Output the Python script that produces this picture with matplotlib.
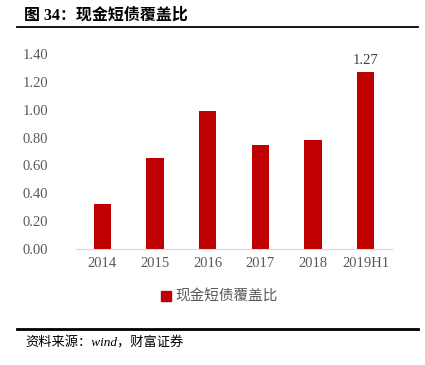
import matplotlib
matplotlib.use("Agg")
import matplotlib.pyplot as plt
from matplotlib.lines import Line2D

plt.rcParams['font.family'] = ['Liberation Serif', 'Noto Sans CJK SC']

years = ['2014', '2015', '2016', '2017', '2018', '2019H1']
ratio = [0.32, 0.65, 0.99, 0.75, 0.78, 1.27]
label_last = '1.27'
series_name = '现金短债覆盖比'
red = '#C00000'
grey = '#595959'

fig = plt.figure(figsize=(4.25, 3.65), dpi=100)
ax = fig.add_axes([0.179, 0.318, 0.743, 0.534])

x = range(len(years))
ax.bar(x, ratio, width=0.33, color=red, zorder=2)
ax.text(x[-1], ratio[-1] + 0.04, label_last, ha='center', va='bottom',
        fontsize=10.5, color='#404040')

ax.set_xlim(-0.5, len(years) - 0.5)
ax.set_ylim(0, 1.4)
ax.set_yticks([0, 0.2, 0.4, 0.6, 0.8, 1.0, 1.2, 1.4])
ax.set_yticklabels(['%.2f' % v for v in ax.get_yticks()])
ax.set_xticks(list(x))
ax.set_xticklabels(years)
ax.tick_params(axis='both', length=0, labelsize=10.5, colors=grey)
ax.tick_params(axis='y', pad=20)
ax.tick_params(axis='x', pad=6)
for s in ['top', 'right', 'left']:
    ax.spines[s].set_visible(False)
ax.spines['bottom'].set_color('#d9d9d9')

h = Line2D([], [], marker='s', linestyle='none', color=red, markersize=6.5)
fig.legend([h], [series_name], loc='center', bbox_to_anchor=(0.515, 0.187),
           frameon=False, handlelength=0.8, handletextpad=0.3,
           prop={'family': ['Noto Sans CJK SC'], 'size': 10.5}, labelcolor=grey)

fig.text(0.057, 0.957, '图 34：现金短债覆盖比', fontsize=11.5, fontweight='bold',
         va='center', family=['Liberation Serif', 'Noto Sans CJK SC'])
fig.add_artist(Line2D([0.04, 0.984], [0.926, 0.926], color='black', lw=1.3))
fig.add_artist(Line2D([0.04, 0.984], [0.099, 0.099], color='black', lw=2))
fig.text(0.06, 0.06, '资料来源：wind，财富证券', fontsize=9.5, style='italic',
         va='center', family=['Liberation Serif', 'Noto Sans CJK SC'])

fig.savefig('out.png', dpi=100)
